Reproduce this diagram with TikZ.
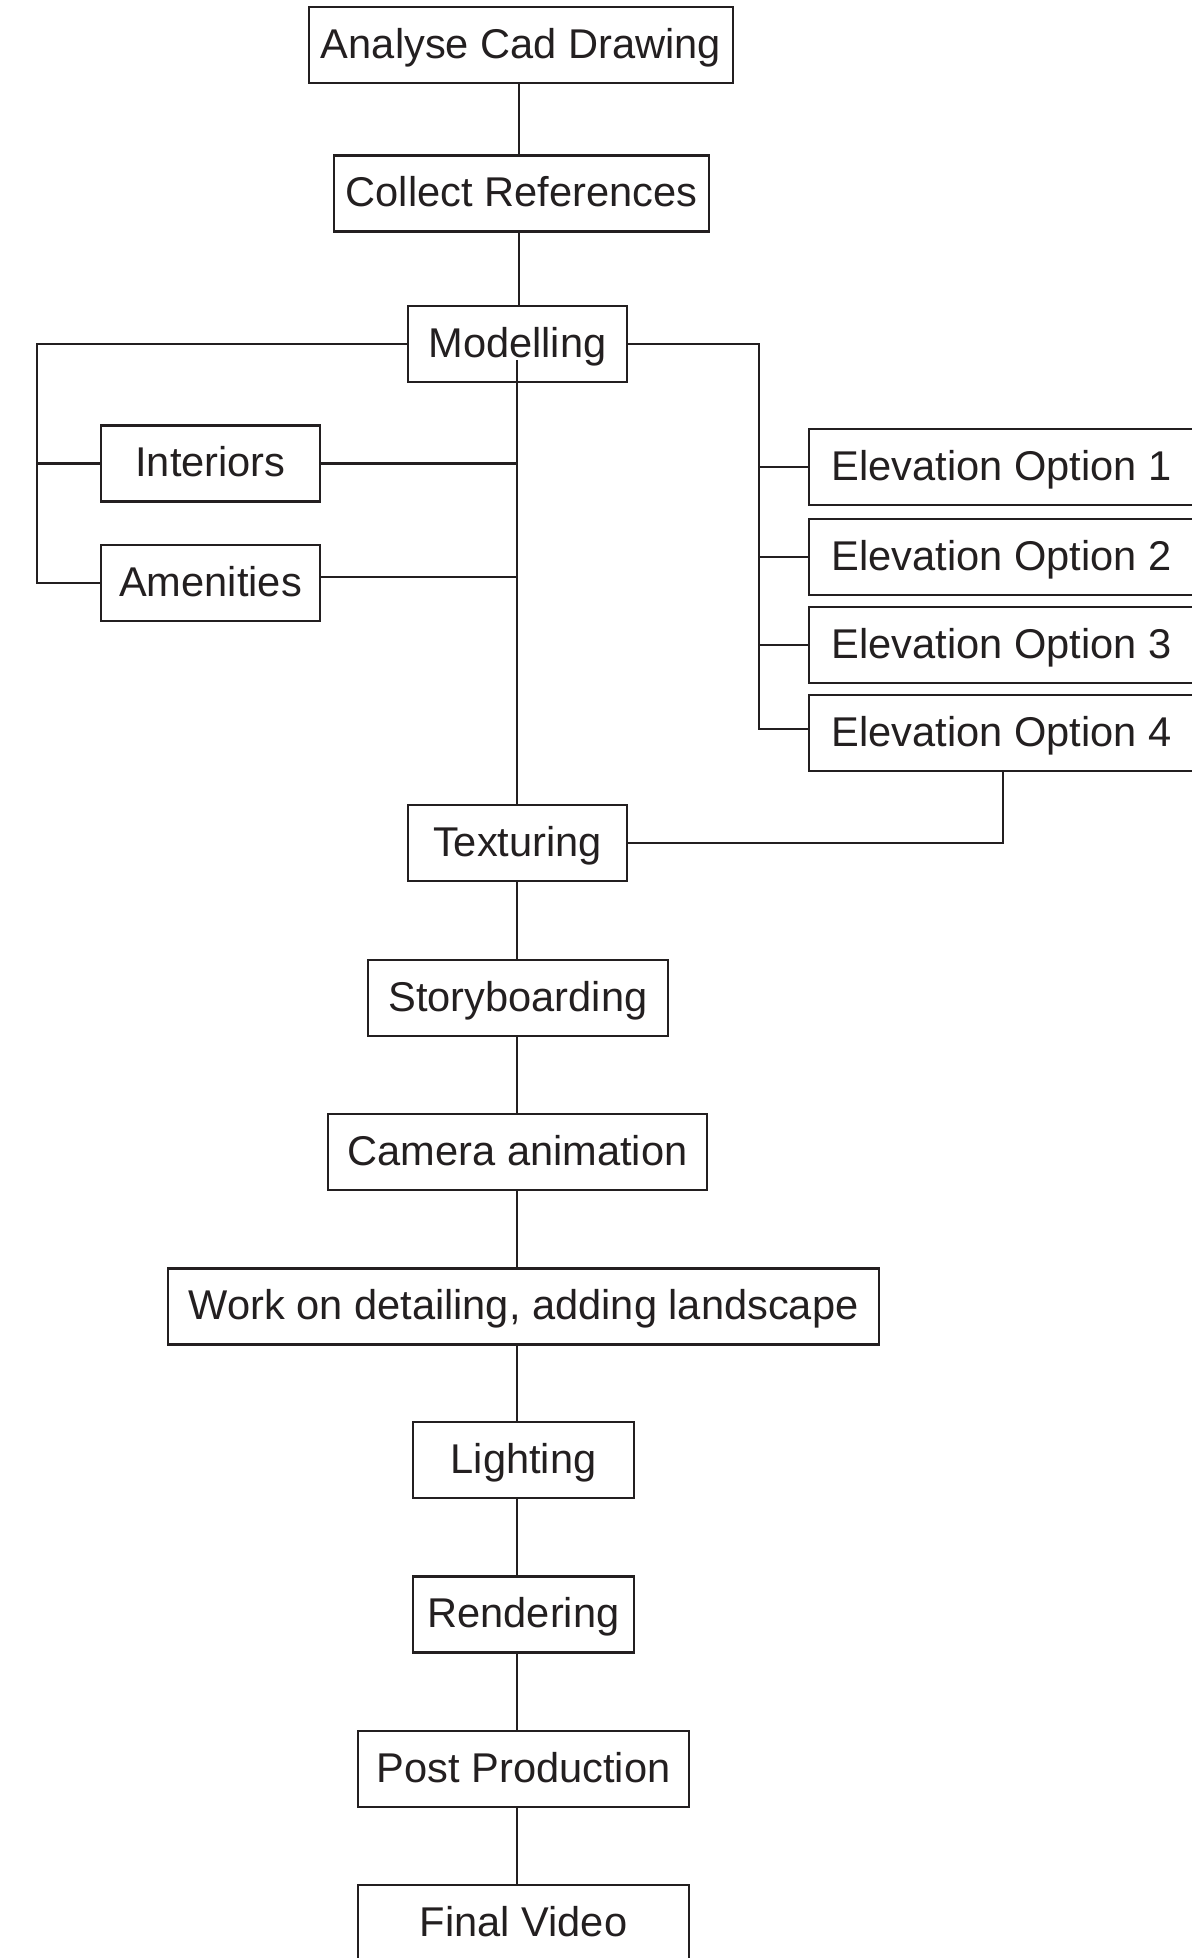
\documentclass[tikz,border=0pt]{standalone}
\usepackage{fontspec}
\setmainfont{Liberation Sans}
\definecolor{ink}{RGB}{35,31,32}
\begin{document}
\begin{tikzpicture}[x=0.5pt,y=-0.5pt,
  box/.style={draw=ink, line width=1.15pt, rectangle, inner sep=0pt, minimum height=38pt,
    text=ink, font=\fontsize{20.8}{24}\selectfont, text height=14.9pt, text depth=1.5pt},
  conn/.style={draw=ink, line width=1.15pt}]
\useasboundingbox[fill=white] (0,0) rectangle (1191,1958);
\coordinate (sp) at (517,0);
\node[box, minimum width=212pt] (analyse) at (521,45) {Analyse Cad Drawing};
\node[box, minimum width=187.5pt] (collect) at (521.5,193.5) {Collect References};
\node[box, minimum width=109.5pt] (model) at (517.5,344) {Modelling};
\node[box, minimum width=109.5pt] (inter) at (210.5,463.5) {Interiors};
\node[box, minimum width=109.5pt] (amen) at (210.5,583) {Amenities};
\node[box, minimum width=192.5pt] (e1) at (1001.5,467) {Elevation Option 1};
\node[box, minimum width=192.5pt] (e2) at (1001.5,557) {Elevation Option 2};
\node[box, minimum width=192.5pt] (e3) at (1001.5,645) {Elevation Option 3};
\node[box, minimum width=192.5pt] (e4) at (1001.5,733) {Elevation Option 4};
\node[box, minimum width=109.5pt] (tex) at (517.5,843) {Texturing};
\node[box, minimum width=150pt] (story) at (518,998) {Storyboarding};
\node[box, minimum width=189.5pt] (cam) at (517.5,1152) {Camera animation};
\node[box, minimum width=355.5pt] (work) at (523.5,1306.5) {Work on detailing, adding landscape};
\node[box, minimum width=110.5pt] (light) at (523.5,1460) {Lighting};
\node[box, minimum width=110.5pt] (rend) at (523.5,1614.5) {Rendering};
\node[box, minimum width=165.5pt] (post) at (523.5,1769) {Post Production};
\node[box, minimum width=165.5pt] (final) at (523.5,1923) {Final Video};
\coordinate (mstart) at (517,360);
\coordinate (lx) at (37,0);
\coordinate (rx) at (759,0);
% top chain
\draw[conn] (analyse.south -| 519,0) -- (collect.north -| 519,0);
\draw[conn] (collect.south -| 519,0) -- (model.north -| 519,0);
% spine from modelling to texturing
\draw[conn] (mstart) -- (tex.north -| sp);
% left branch
\draw[conn] (model.west) -- (model.west -| lx) -- (amen.west -| lx) -- (amen.west);
\draw[conn] (inter.west -| lx) -- (inter.west);
\draw[conn] (inter.east) -- (inter.east -| sp);
\draw[conn] ([yshift=3pt]amen.east) -- ([yshift=3pt]amen.east -| sp);
% right branch
\draw[conn] (model.east) -- (model.east -| rx) -- ([yshift=2pt]e4.west -| rx) -- ([yshift=2pt]e4.west);
\draw[conn] (e1.west -| rx) -- (e1.west);
\draw[conn] (e2.west -| rx) -- (e2.west);
\draw[conn] (e3.west -| rx) -- (e3.west);
\draw[conn] (e4.south -| 1003,0) -- (tex.east -| 1003,0) -- (tex.east);
% lower chain
\draw[conn] (tex.south -| sp) -- (story.north -| sp);
\draw[conn] (story.south -| sp) -- (cam.north -| sp);
\draw[conn] (cam.south -| sp) -- (work.north -| sp);
\draw[conn] (work.south -| sp) -- (light.north -| sp);
\draw[conn] (light.south -| sp) -- (rend.north -| sp);
\draw[conn] (rend.south -| sp) -- (post.north -| sp);
\draw[conn] (post.south -| sp) -- (final.north -| sp);
\end{tikzpicture}
\end{document}
